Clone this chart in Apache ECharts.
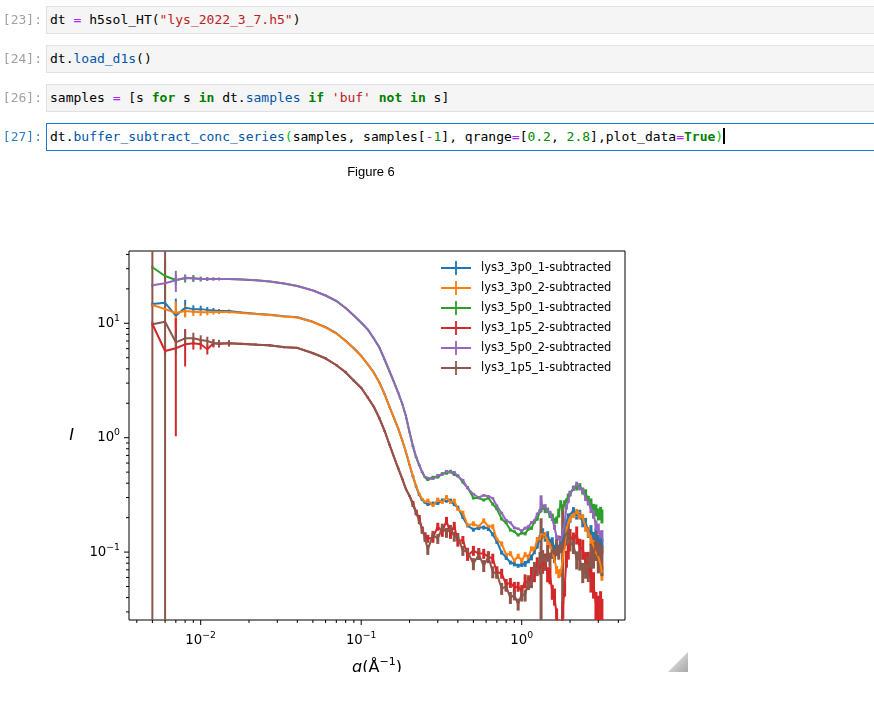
<!DOCTYPE html>
<html><head><meta charset="utf-8">
<script src="https://cdn.jsdelivr.net/npm/echarts@6/dist/echarts.min.js"></script>
<style>
body{margin:0;background:#fff;}
#wrap{position:relative;width:874px;height:715px;overflow:hidden;background:#fff;}
#chart{position:absolute;left:0;top:0;width:874px;height:715px;}
.prompt{position:absolute;left:0;width:42px;text-align:right;font-family:'DejaVu Sans Mono',monospace;font-size:13px;color:#a0a0a0;line-height:28px;z-index:3;}
.prompt.act{color:#307fc1;}
.cell{position:absolute;left:46px;width:840px;height:28px;box-sizing:border-box;background:#f5f5f5;border:1px solid #e0e0e0;font-family:'DejaVu Sans Mono',monospace;font-size:13px;line-height:26px;padding-left:3px;white-space:pre;color:#000;z-index:3;}
.cell.act{background:#fff;border:1px solid #1976d2;}
.o{color:#aa22ff;} .s{color:#ba2121;} .k{color:#008000;font-weight:bold;} .n{color:#008800;} .p{color:#0055aa;} .mb{color:#00bb00;}
.cur{display:inline-block;width:2px;height:16px;background:#000;vertical-align:-3px;}
#ftitle{position:absolute;left:321px;width:100px;top:164px;text-align:center;font-family:'Liberation Sans',Arial,sans-serif;font-size:13px;color:#000;z-index:3;}
</style></head>
<body><div id="wrap">
<div id="chart"></div>
<div class="prompt" style="top:6px">[23]:</div>
<div class="cell" style="top:6px">dt <span class="o">=</span> h5sol_HT(<span class="s">"lys_2022_3_7.h5"</span>)</div>
<div class="prompt" style="top:45px">[24]:</div>
<div class="cell" style="top:45px">dt.<span class="p">load_d1s</span>()</div>
<div class="prompt" style="top:84px">[26]:</div>
<div class="cell" style="top:84px">samples <span class="o">=</span> [s <span class="k">for</span> s <span class="k">in</span> dt.<span class="p">samples</span> <span class="k">if</span> <span class="s">'buf'</span> <span class="k">not</span> <span class="k">in</span> s]</div>
<div class="prompt act" style="top:123px">[27]:</div>
<div class="cell act" style="top:123px">dt.<span class="p">buffer_subtract_conc_series</span><span class="mb">(</span>samples, samples[<span class="o">-</span><span class="n">1</span>], qrange<span class="o">=</span>[<span class="n">0.2</span>, <span class="n">2.8</span>],plot_data<span class="o">=</span><span class="k">True</span><span class="mb">)</span><span class="cur"></span></div>
<div id="ftitle">Figure 6</div>
</div>
<script>
// ---- data ----
const q = [0.005,0.006,0.007,0.008,0.009,0.010,0.011,0.012,0.013,0.015,
 0.018,0.022,0.027,0.033,0.04,0.05,0.06,0.07,0.08,0.09,0.10,0.11,0.12,0.13,0.14,0.15,0.16,0.17,0.18,0.19,0.20,0.21,0.22,0.23,0.24,0.25,
 0.26,0.28,0.30,0.32,0.34,0.36,0.38,0.40,0.43,0.46,0.50,0.54,0.58,0.62,0.66,0.70,0.75,0.80,0.85,0.90,0.95,
 1.00,1.05,1.10,1.15,1.20,1.25,1.30,1.32,1.35,1.40,1.45,1.50,1.55,1.60,1.65,1.70,1.75,1.80,1.85,1.90,1.95,2.00,
 2.10,2.20,2.30,2.40,2.50,2.60,2.70,2.80,2.90,3.00,3.10,3.16];

const names = ['lys3_3p0_1-subtracted','lys3_3p0_2-subtracted','lys3_5p0_1-subtracted','lys3_1p5_2-subtracted','lys3_5p0_2-subtracted','lys3_1p5_1-subtracted'];

const I_3p0_1 = [14.75,15.1,11.65,13.7,13.3,13.3,13.1,12.95,12.8,12.8,
 12.4,12.1,11.9,11.5,11.3,10.3,9.25,8.2,7.05,6.05,5.2,4.38,3.7,3.03,2.4,1.86,1.49,1.2,0.95,0.745,0.578,0.458,0.372,0.316,0.286,0.27,
 0.261,0.266,0.266,0.283,0.279,0.282,0.260,0.245,0.201,0.171,0.157,0.164,0.164,0.161,0.143,0.124,0.099,0.090,0.081,0.079,0.076,0.078,0.079,0.084,0.090,0.101,0.114,0.134,0.137,0.151,0.134,0.142,0.121,0.126,0.107,0.114,0.103,0.121,0.126,0.164,0.167,0.204,0.196,0.231,0.209,0.217,0.181,0.181,0.148,0.155,0.134,0.142,0.124,0.131,0.114];
const I_3p0_2 = [14.45,13.3,12.3,12.8,12.6,12.5,12.5,12.55,12.55,12.55,
 12.3,12.06,11.82,11.47,11.23,10.27,9.19,8.14,7.0,6.02,5.18,4.36,3.68,3.01,2.385,1.855,1.487,1.203,0.955,0.75,0.583,0.463,0.378,0.322,0.291,0.274,
 0.282,0.255,0.288,0.272,0.303,0.272,0.282,0.236,0.221,0.171,0.177,0.167,0.188,0.167,0.167,0.129,0.118,0.095,0.097,0.084,0.092,0.084,0.095,0.090,0.107,0.105,0.129,0.129,0.145,0.142,0.140,0.126,0.116,0.101,0.086,0.070,0.065,0.066,0.086,0.114,0.158,0.181,0.200,0.213,0.221,0.209,0.197,0.167,0.151,0.129,0.114,0.099,0.091,0.077,0.066];
const I_5p0_1 = [30.9,25.9,23.9,24.7,24.7,24.4,24.4,24.4,24.4,24.4,
 24.2,23.8,23.2,22.3,21.2,19.4,17.5,15.7,13.6,11.7,10.1,8.8,7.33,6.1,4.8,3.8,3.05,2.47,1.98,1.54,1.115,0.84,0.672,0.572,0.497,0.449,
 0.427,0.453,0.449,0.487,0.486,0.511,0.472,0.467,0.406,0.367,0.297,0.297,0.285,0.297,0.263,0.238,0.195,0.180,0.156,0.151,0.141,0.147,0.145,0.159,0.162,0.183,0.195,0.228,0.233,0.248,0.233,0.233,0.211,0.207,0.187,0.191,0.220,0.263,0.233,0.268,0.280,0.309,0.322,0.363,0.367,0.378,0.342,0.328,0.285,0.268,0.238,0.233,0.215,0.220,0.207];
const I_1p5_2 = [9.85,5.73,6.05,6.55,6.69,6.55,5.93,6.69,6.6,6.69,
 6.62,6.5,6.43,6.18,6.1,5.47,4.95,4.3,3.74,3.14,2.73,2.24,1.86,1.47,1.145,0.87,0.68,0.54,0.438,0.355,0.31,0.269,0.224,0.199,0.156,0.138,
 0.131,0.134,0.167,0.151,0.188,0.145,0.170,0.124,0.128,0.093,0.103,0.097,0.097,0.091,0.088,0.067,0.065,0.052,0.054,0.049,0.050,0.046,0.056,0.053,0.065,0.062,0.079,0.072,0.086,0.076,0.083,0.064,0.063,0.045,0.041,0.028,0.018,0.013,0.032,0.048,0.088,0.101,0.136,0.129,0.142,0.109,0.107,0.082,0.081,0.059,0.053,0.035,0.032,0.035,0.030];
const I_5p0_2 = [21.5,22.4,23.8,25.0,24.7,24.4,24.4,24.4,24.4,24.4,
 24.15,23.77,23.2,22.28,21.18,19.35,17.5,15.66,13.6,11.7,10.16,8.83,7.36,6.14,4.83,3.83,3.07,2.48,1.99,1.548,1.121,0.846,0.678,0.577,0.501,0.453,
 0.444,0.436,0.470,0.474,0.510,0.497,0.499,0.458,0.425,0.361,0.321,0.300,0.314,0.306,0.296,0.253,0.219,0.189,0.181,0.163,0.160,0.153,0.162,0.166,0.181,0.187,0.215,0.229,0.285,0.243,0.250,0.228,0.219,0.195,0.165,0.135,0.133,0.125,0.150,0.179,0.248,0.279,0.328,0.356,0.393,0.364,0.348,0.297,0.274,0.238,0.215,0.172,0.160,0.137,0.139];
const I_1p5_1 = [9.8,10.3,6.82,7.39,7.39,7.14,7.0,6.73,6.69,6.69,
 6.59,6.53,6.40,6.21,6.08,5.50,4.92,4.32,3.72,3.16,2.72,2.245,1.855,1.472,1.144,0.872,0.678,0.543,0.436,0.356,0.309,0.258,0.22,0.187,0.156,0.133,
 0.105,0.142,0.131,0.164,0.148,0.160,0.137,0.136,0.103,0.101,0.079,0.095,0.076,0.091,0.067,0.065,0.048,0.050,0.040,0.042,0.035,0.043,0.042,0.055,0.055,0.072,0.070,0.088,0.079,0.089,0.081,0.099,0.086,0.105,0.095,0.111,0.101,0.118,0.105,0.136,0.134,0.154,0.119,0.116,0.086,0.086,0.067,0.075,0.072,0.095,0.097,0.116,0.093,0.099,0.088];

// relative uncertainties (error bar half-length / I)
const E_3p0_1 = [0.03,0.05,0.41,0.17,0.08,0.07,0.06,0.05,0.04,0.03,
 0.02,0.02,0.01,0.01,0.01,0.01,0.01,0.01,0.01,0.01,0.01,0.01,0.01,0.01,0.01,0.01,0.01,0.01,0.01,0.01,0.01,0.01,0.01,0.02,0.02,0.02,
 0.03,0.04,0.03,0.04,0.03,0.04,0.03,0.04,0.03,0.04,0.04,0.05,0.04,0.05,0.04,0.05,0.04,0.05,0.04,0.05,0.04,0.05,0.06,0.05,0.06,0.05,0.06,0.05,0.06,0.07,0.08,0.07,0.08,0.07,0.08,0.07,0.08,0.07,0.08,0.07,0.08,0.07,0.08,0.07,0.08,0.08,0.09,0.10,0.10,0.11,0.12,0.13,0.14,0.15,0.15];
const E_3p0_2 = [0.03,0.05,0.26,0.12,0.08,0.07,0.06,0.05,0.04,0.03,
 0.02,0.02,0.01,0.01,0.01,0.01,0.01,0.01,0.01,0.01,0.01,0.01,0.01,0.01,0.01,0.01,0.01,0.01,0.01,0.01,0.01,0.01,0.01,0.02,0.02,0.02,
 0.04,0.03,0.04,0.03,0.04,0.03,0.04,0.03,0.04,0.03,0.05,0.04,0.05,0.04,0.05,0.04,0.05,0.04,0.05,0.04,0.05,0.06,0.05,0.06,0.05,0.06,0.05,0.06,0.06,0.08,0.07,0.08,0.07,0.08,0.07,0.08,0.09,0.08,0.09,0.07,0.08,0.07,0.08,0.07,0.08,0.08,0.09,0.10,0.10,0.11,0.12,0.13,0.14,0.15,0.15];
const E_5p0_1 = [0.03,0.38,0.10,0.08,0.07,0.05,0.04,0.03,0.03,0.02,
 0.01,0.01,0.01,0.01,0.01,0.01,0.01,0.01,0.01,0.01,0.01,0.01,0.01,0.01,0.01,0.01,0.01,0.01,0.01,0.01,0.01,0.01,0.01,0.01,0.01,0.01,
 0.02,0.025,0.02,0.025,0.02,0.025,0.02,0.025,0.02,0.025,0.03,0.025,0.03,0.025,0.03,0.025,0.03,0.025,0.03,0.025,0.03,0.03,0.035,0.03,0.035,0.03,0.035,0.03,0.04,0.05,0.06,0.05,0.06,0.05,0.06,0.07,0.09,0.08,0.09,0.06,0.05,0.05,0.05,0.05,0.06,0.06,0.07,0.08,0.09,0.10,0.11,0.12,0.12,0.13,0.14];
const E_1p5_2 = [0.05,0.08,0.83,0.36,0.12,0.10,0.10,0.08,0.07,0.06,
 0.02,0.02,0.02,0.02,0.02,0.02,0.02,0.02,0.02,0.02,0.02,0.02,0.02,0.02,0.02,0.02,0.02,0.02,0.02,0.02,0.02,0.04,0.05,0.06,0.07,0.08,
 0.08,0.10,0.08,0.10,0.08,0.10,0.08,0.10,0.08,0.10,0.10,0.12,0.10,0.12,0.10,0.12,0.10,0.12,0.10,0.12,0.10,0.12,0.14,0.12,0.14,0.12,0.14,0.12,0.15,0.15,0.17,0.15,0.17,0.15,0.17,0.15,0.17,0.15,0.17,0.15,0.17,0.15,0.17,0.15,0.18,0.20,0.20,0.22,0.24,0.25,0.26,0.28,0.30,0.30,0.30,0.30];
const E_5p0_2 = [0.03,0.05,0.21,0.06,0.05,0.04,0.03,0.03,0.02,0.02,
 0.01,0.01,0.01,0.01,0.01,0.01,0.01,0.01,0.01,0.01,0.01,0.01,0.01,0.01,0.01,0.01,0.01,0.01,0.01,0.01,0.01,0.01,0.01,0.01,0.01,0.01,
 0.025,0.02,0.025,0.02,0.025,0.02,0.025,0.02,0.025,0.02,0.025,0.03,0.025,0.03,0.025,0.03,0.025,0.03,0.025,0.03,0.025,0.035,0.03,0.035,0.03,0.035,0.03,0.035,0.10,0.04,0.05,0.04,0.05,0.04,0.05,0.04,0.05,0.04,0.05,0.04,0.05,0.04,0.05,0.04,0.05,0.05,0.05,0.06,0.07,0.08,0.09,0.10,0.11,0.12,0.12,0.13];
const E_1p5_1 = [5,5,0.20,0.15,0.12,0.10,0.09,0.08,0.07,0.06,
 0.02,0.02,0.02,0.02,0.02,0.02,0.02,0.02,0.02,0.02,0.02,0.02,0.02,0.02,0.02,0.02,0.02,0.02,0.02,0.02,0.02,0.04,0.05,0.06,0.07,0.08,
 0.10,0.08,0.10,0.08,0.10,0.08,0.10,0.08,0.10,0.08,0.12,0.10,0.12,0.10,0.12,0.10,0.12,0.10,0.12,0.10,0.12,0.14,0.12,0.14,0.12,0.14,0.12,0.14,1.5,0.17,0.15,0.17,0.15,0.17,0.15,0.17,0.15,0.17,1.5,0.17,0.15,0.17,0.15,0.17,0.18,0.20,0.20,0.22,0.24,0.25,0.26,0.28,0.30,0.30,0.30,0.30];

const xMajor = [0.01, 0.1, 1];
const xMinor = [0.004,0.005,0.006,0.007,0.008,0.009,0.02,0.03,0.04,0.05,0.06,0.07,0.08,0.09,0.2,0.3,0.4,0.5,0.6,0.7,0.8,0.9,2,3,4];
const yMajor = [0.1, 1, 10];
const yMinor = [0.03,0.04,0.05,0.06,0.07,0.08,0.09,0.2,0.3,0.4,0.5,0.6,0.7,0.8,0.9,2,3,4,5,6,7,8,9,20,30,40];

const Q_MIN = 0.003576, Q_MAX = 4.40, I_MIN = 0.02549, I_MAX = 42.85;
// ---- end data ----

const colors = ['#1f77b4','#ff7f0e','#2ca02c','#d62728','#9467bd','#8c564b'];
const Is = [I_3p0_1, I_3p0_2, I_5p0_1, I_1p5_2, I_5p0_2, I_1p5_1];
const Es = [E_3p0_1, E_3p0_2, E_5p0_1, E_1p5_2, E_5p0_2, E_1p5_1];

const chart = echarts.init(document.getElementById('chart'), null, {renderer: 'canvas'});
const FONT = 'DejaVu Sans';
function powLabel(v) {
  const l = Math.log10(v), e = Math.round(l);
  if (Math.abs(l - e) > 1e-6) return '';
  return '{b|10}{s|' + (e < 0 ? '\u2212' : '') + Math.abs(e) + '}';
}
const richTick = {
  b: {fontFamily: FONT, fontSize: 13.3, color: '#000'},
  s: {fontFamily: FONT, fontSize: 9.3, color: '#000', padding: [0, 0, 10, 0]}
};

const series = [];
names.forEach((nm, k) => {
  const col = colors[k];
  series.push({
    type: 'line', name: nm, data: q.map((x, i) => [x, Is[k][i]]),
    showSymbol: false, symbol: 'none', clip: true,
    lineStyle: {width: 2, color: col}, itemStyle: {color: col},
    emphasis: {disabled: true}, animation: false
  });
  series.push({
    type: 'custom', name: nm, clip: true, silent: true, animation: false,
    encode: {x: 0, y: [1, 2]},
    data: q.map((x, i) => [x, Math.max(Is[k][i] * (1 - Es[k][i]), 1e-5), Is[k][i] * (1 + Es[k][i])]),
    renderItem: (p, api) => {
      const xv = api.value(0);
      const a = api.coord([xv, api.value(1)]);
      const b = api.coord([xv, api.value(2)]);
      return {type: 'line', shape: {x1: a[0], y1: a[1], x2: b[0], y2: b[1]},
              style: {stroke: col, lineWidth: xv >= 0.21 ? 3 : 2}};
    }
  });
});
function tickSeries(vals, len, isX) {
  return {
    type: 'custom', silent: true, clip: false, animation: false,
    encode: {x: 0, y: 1},
    data: vals.map(v => isX ? [v, I_MIN] : [Q_MIN, v]),
    renderItem: (p, api) => {
      const pt = api.coord([api.value(0), api.value(1)]);
      const sh = isX ? {x1: pt[0], y1: pt[1], x2: pt[0], y2: pt[1] + len}
                     : {x1: pt[0], y1: pt[1], x2: pt[0] - len, y2: pt[1]};
      return {type: 'line', shape: sh, style: {stroke: '#000', lineWidth: 1}};
    }
  };
}
series.push(tickSeries(xMajor, 5, true), tickSeries(xMinor, 3, true), tickSeries(yMajor, 5, false), tickSeries(yMinor, 3, false));

chart.setOption({
  animation: false,
  backgroundColor: '#fff',
  grid: {left: 129, top: 251, width: 496, height: 369, show: true, borderColor: '#000', borderWidth: 1, backgroundColor: 'transparent'},
  xAxis: {
    type: 'log', min: Q_MIN, max: Q_MAX,
    axisLine: {show: false}, axisTick: {show: false}, splitLine: {show: false}, minorTick: {show: false},
    axisLabel: {margin: 11, formatter: powLabel, rich: richTick, showMinLabel: false, showMaxLabel: false},
    name: '{i|q}{n|(Å}{s|\u22121}{n|)}', nameLocation: 'middle', nameGap: 37,
    nameTextStyle: {rich: {
      i: {fontFamily: FONT, fontSize: 16, fontStyle: 'italic', color: '#000'},
      n: {fontFamily: FONT, fontSize: 16, color: '#000'},
      s: {fontFamily: FONT, fontSize: 11, color: '#000', padding: [0, 0, 11, 0]}
    }}
  },
  yAxis: {
    type: 'log', min: I_MIN, max: I_MAX,
    axisLine: {show: false}, axisTick: {show: false}, splitLine: {show: false}, minorTick: {show: false},
    axisLabel: {margin: 9, formatter: powLabel, rich: richTick, showMinLabel: false, showMaxLabel: false},
    name: 'I', nameLocation: 'middle', nameGap: 55, nameRotate: 0,
    nameTextStyle: {fontFamily: FONT, fontSize: 16, fontStyle: 'italic', color: '#000'}
  },
  legend: {
    data: names, orient: 'vertical', left: 441, top: 261,
    itemWidth: 30, itemHeight: 14, itemGap: 6, padding: 0,
    icon: 'path://M0,6.1h30v1.8h-30z M14.1,0h1.8v14h-1.8z',
    textStyle: {fontFamily: FONT, fontSize: 11.5, color: '#000', lineHeight: 14, padding: [0, 0, 0, 5]},
    selectedMode: false
  },
  graphic: [
    {type: 'rect', z: 100, shape: {x: 0, y: 672, width: 874, height: 43}, style: {fill: '#fff'}},
    {type: 'polygon', z: 101, shape: {points: [[688, 652], [688, 672], [668, 672]]},
     style: {fill: new echarts.graphic.LinearGradient(0, 0, 1, 1, [{offset: 0, color: '#f0f0f0'}, {offset: 1, color: '#a8a8a8'}])}}
  ],
  series: series
});
</script>
</body></html>
